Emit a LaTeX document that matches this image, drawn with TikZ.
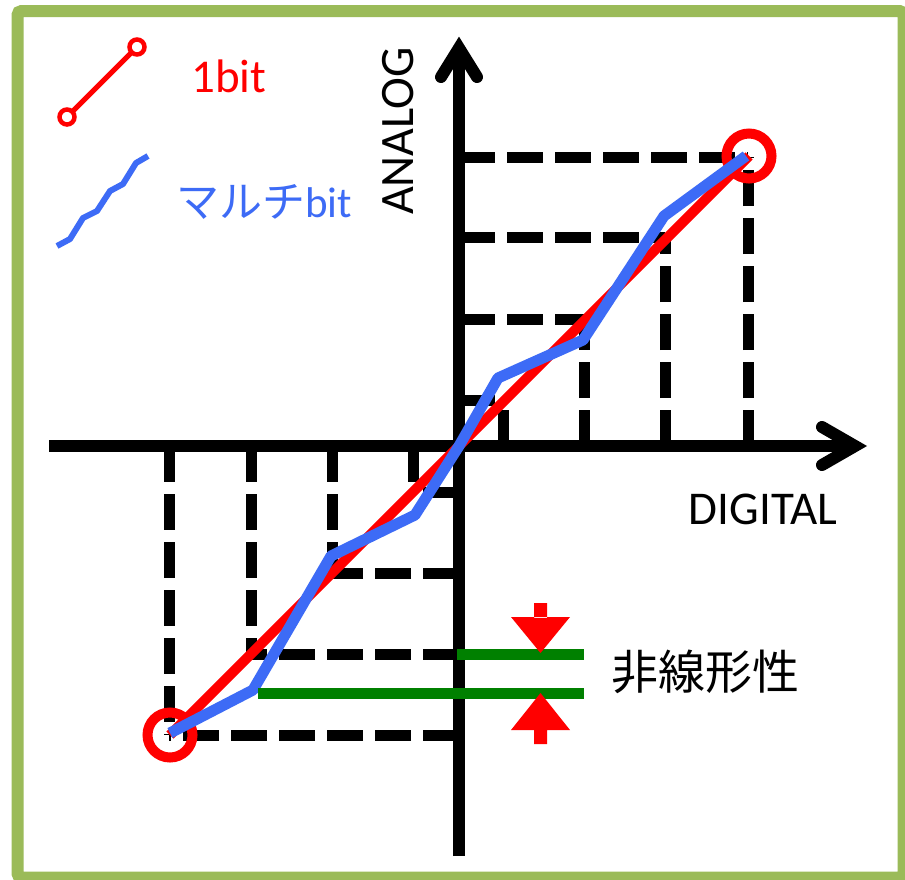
\documentclass[tikz,border=0pt]{standalone}
\usepackage{fontspec}
\setmainfont{Carlito}
\newfontfamily\jpfont{Noto Sans CJK JP}
\usepackage{tikz}
\usetikzlibrary{positioning}
\definecolor{framegreen}{RGB}{155, 187, 89}
\definecolor{multiblue}{RGB}{61, 107, 246}
\definecolor{levelgreen}{RGB}{0, 128, 0}

\begin{document}
\begin{tikzpicture}[x=1pt, y=-1pt,
    axis/.style={line width=12pt},
    axistip/.style={line width=12pt, line cap=round, line join=miter},
    guide/.style={line width=11pt, dash pattern=on 36pt off 12pt},
    ideal/.style={red, line width=10pt},
    real/.style={multiblue, line width=11pt, line join=round},
    endring/.style={draw=red, line width=10pt, circle, minimum size=45pt, inner sep=0pt},
    level/.style={levelgreen, line width=11pt},
    label/.style={font=\fontsize{47}{56}\selectfont, inner sep=0pt}
]
    \useasboundingbox (0,0) rectangle (905,879);
    \fill[white] (0,0) rectangle (905,879);
    \draw[framegreen, line width=12pt, rounded corners=4pt] (17.5,11) rectangle (903.5,877.5);

    \coordinate (origin) at (459,446);
    \coordinate (lo) at (170,735);
    \coordinate (hi) at (749,156);

    % quantisation steps
    \foreach \gx/\gy in {503/400, 584/319, 665/237, 748/157, 413/492, 332/573, 251/654, 169/735} {
        \draw[guide] (459,\gy) -- (\gx,\gy);
        \draw[guide] (\gx,446) -- (\gx,\gy);
    }

    % axes
    \draw[axis] (49,446) -- (850,446);
    \draw[axistip] (822,427) -- (855,446) -- (822,465);
    \draw[axis] (459,856) -- (459,55);
    \draw[axistip] (441,77) -- (459,48) -- (477,77);

    \node[endring] (ringlo) at (lo) {};
    \node[endring] (ringhi) at (hi) {};
    \draw[ideal] (lo) -- (hi);
    \draw[real] (170,733) -- (253,690) -- (331,556) -- (415,515) -- (origin)
        -- (498,378) -- (583,340) -- (664,216) -- (746,156);

    % nonlinearity
    \draw[level] (457,654) -- (584,654);
    \draw[level] (258,693) -- (584,693);
    \fill[red] (534,603) rectangle (547,618) (511,617) -- (570,617) -- (540.5,653) -- cycle;
    \fill[red] (534,729) rectangle (547,744) (511,730) -- (570,730) -- (540.5,693) -- cycle;
    \node[label, anchor=west, font=\fontsize{47}{54}\selectfont\jpfont] (nonlin) at (611,672) {非線形性};

    \node[label] (digital) at (763,509) {DIGITAL};
    \node[label, rotate=90, font=\fontsize{48}{56}\selectfont] (analog) at (398,131) {ANALOG};

    % legend
    \draw[red, line width=5pt] (67,117) -- (137,47);
    \draw[red, line width=4.5pt, fill=white] (67,117) circle (7.5pt) (137,47) circle (7.5pt);
    \node[label, red, anchor=base west] (onebit) at (191,92) {1bit};
    \draw[multiblue, line width=6pt, line join=round] (57,246) -- (70,239) -- (83,218) -- (97,211)
        -- (110,191) -- (123,184) -- (136,163) -- (148,156);
    \node[label, multiblue, anchor=base west, font=\fontsize{43}{50}\selectfont] (multibit) at (176,217) {{\jpfont マルチ}bit};
\end{tikzpicture}
\end{document}
